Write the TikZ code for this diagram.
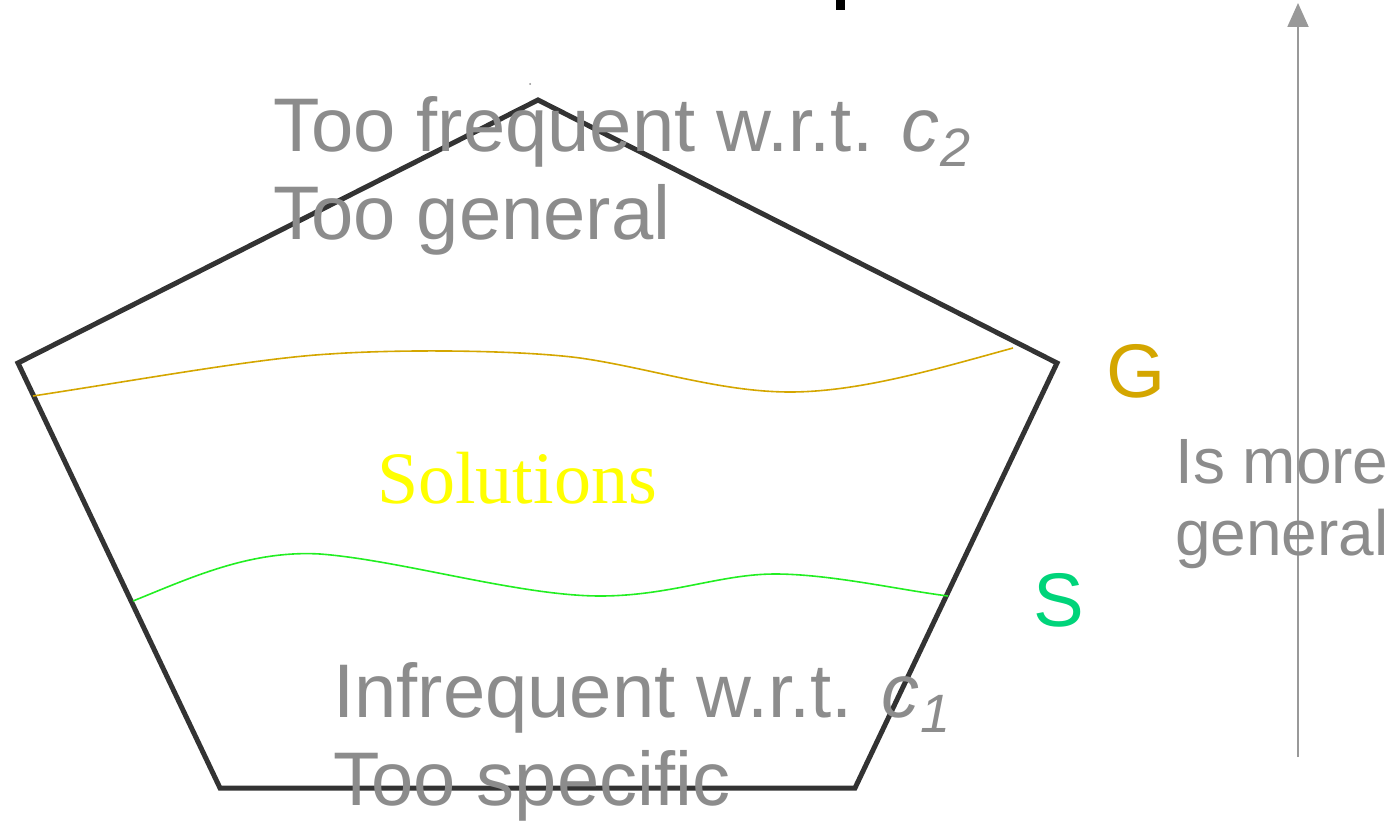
\documentclass[tikz,border=0pt]{standalone}
\usepackage{fontspec}
\setmainfont{Liberation Sans}
\newfontfamily\serifface{Liberation Serif}
\usetikzlibrary{arrows.meta}
\definecolor{txtgray}{HTML}{8C8C8C}
\definecolor{edgegray}{HTML}{333333}
\definecolor{goldc}{HTML}{D4A600}
\definecolor{greenline}{HTML}{22EE22}
\definecolor{greens}{HTML}{00D47A}
\definecolor{sol}{HTML}{FFFF00}
\definecolor{arrowgray}{HTML}{999999}
\newcommand{\subidx}[1]{\kern1pt\raisebox{-15pt}{\fontsize{54}{54}\selectfont #1}}
\tikzset{
  bigtxt/.style={font=\fontsize{76}{88}\selectfont, text=txtgray, inner sep=0pt, anchor=base west},
  border/.style={draw=edgegray, line width=5pt, line join=miter},
}
\begin{document}
\begin{tikzpicture}[x=1pt,y=-1pt]
\useasboundingbox (0,0) rectangle (1394,821);
% pentagon
\coordinate (top) at (538,100);
\coordinate (rt) at (1057,363);
\coordinate (br) at (855,788);
\coordinate (bl) at (220,788);
\coordinate (lt) at (18,363);
\draw[border] (top) -- (rt) -- (br) -- (bl) -- (lt) -- cycle;
% boundaries
\draw[goldc, line width=1.6pt] (33,396) .. controls (150,378) and (260,358) .. (330,354) .. controls (400,349) and (520,350) .. (580,358) .. controls (650,368) and (720,392) .. (790,392) .. controls (860,392) and (940,368) .. (1013,348);
\draw[greenline, line width=1.6pt] (133,601) .. controls (190,578) and (250,550) .. (320,554) .. controls (400,560) and (520,596) .. (600,596) .. controls (670,596) and (720,574) .. (775,574) .. controls (830,574) and (900,590) .. (948,596);
% texts
\node[bigtxt] (tf) at (273,152) {Too frequent w.r.t. {\itshape c\subidx{2}}};
\node[bigtxt] (tg) at (273,240) {Too general};
\node[bigtxt] (inf) at (333,717) {Infrequent w.r.t. {\itshape c\subidx{1}}};
\node[bigtxt] (ts) at (333,805) {Too specific};
\node[inner sep=0pt, anchor=base, text=sol, font=\serifface\fontsize{74}{88}\selectfont] (solutions) at (517,503) {Solutions};
\node[bigtxt, text=goldc] (G) at (1106,397) {G};
\node[bigtxt, text=greens] (S) at (1033,626) {S};
% arrow
\coordinate (abot) at (1298,757);
\coordinate (atop) at (1298,3);
\draw[arrowgray, line width=2pt, -{Triangle[length=24pt,width=21pt]}] (abot) -- (atop);
\node[bigtxt, font=\fontsize{64}{74}\selectfont] (ismore) at (1175,483) {Is more};
\node[bigtxt, font=\fontsize{64}{74}\selectfont] (gen) at (1175,555) {general};
% small marks
\fill[black] (836,0) rectangle (845,10);
\fill[txtgray] (530,84) circle (1pt);
\end{tikzpicture}
\end{document}
